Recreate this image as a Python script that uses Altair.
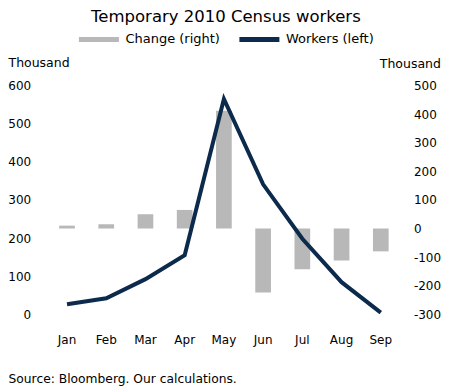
import altair as alt
import pandas as pd

months = ["Jan", "Feb", "Mar", "Apr", "May", "Jun", "Jul", "Aug", "Sep"]
workers = [26, 42, 92, 155, 565, 341, 198, 84, 4]
change = [10, 15, 50, 65, 412, -224, -143, -112, -80]
left_ticks = [0, 100, 200, 300, 400, 500, 600]
right_ticks = [-300, -200, -100, 0, 100, 200, 300, 400, 500]

bar_df = pd.DataFrame({"month": months, "value": change, "series": "Change (right)"})
line_df = pd.DataFrame({"month": months, "value": workers, "series": "Workers (left)"})

FONT = "DejaVu Sans"
BAR_C = "#b8b8b8"
LINE_C = "#0c2a4c"

x_enc = alt.X(
    "month:N",
    sort=months,
    scale=alt.Scale(paddingInner=0.6, paddingOuter=0.3),
    axis=alt.Axis(
        title="Source: Bloomberg. Our calculations.",
        labelAngle=0, domain=False, ticks=False, grid=False,
        labelPadding=20, labelFontSize=12, labelColor="#000",
        titleX=-39.4, titleY=64.5, titleAlign="left", titleBaseline="middle",
        titleFontWeight="normal", titleFontSize=12.3, titleColor="#000",
    ),
)

color_enc = alt.Color(
    "series:N",
    scale=alt.Scale(domain=["Change (right)", "Workers (left)"], range=[BAR_C, LINE_C]),
    legend=alt.Legend(
        title=None, orient="none", direction="horizontal",
        legendX=29, legendY=-69,
        symbolType="stroke", symbolSize=1600, symbolStrokeWidth=5,
        labelFontSize=13, labelColor="#000", labelOffset=4, columnPadding=8.5,
    ),
)

bars = alt.Chart(bar_df).mark_bar(color=BAR_C).encode(
    x=x_enc,
    y=alt.Y(
        "value:Q",
        scale=alt.Scale(domain=[-300, 500], nice=False, zero=False),
        axis=alt.Axis(
            orient="right", values=right_ticks, grid=False, domain=False, ticks=False,
            labelPadding=13, labelFontSize=12, labelColor="#000",
            labelExpr="datum.value < 0 ? '-' + abs(datum.value) : datum.label",
            title="Thousand", titleAngle=0, titleX=40, titleY=-22.5,
            titleAlign="right", titleBaseline="middle", titleFontWeight="normal",
            titleFontSize=12.5, titleColor="#000",
        ),
    ),
    color=color_enc,
)

line = alt.Chart(line_df).mark_line(strokeWidth=4, color=LINE_C).encode(
    x=x_enc,
    y=alt.Y(
        "value:Q",
        scale=alt.Scale(domain=[0, 600], nice=False),
        axis=alt.Axis(
            orient="left", values=left_ticks, grid=False, domain=False, ticks=False,
            labelPadding=16.7, labelFontSize=12, labelColor="#000",
            title="Thousand", titleAngle=0, titleX=-39.4, titleY=-23,
            titleAlign="left", titleBaseline="middle", titleFontWeight="normal",
            titleFontSize=12.5, titleColor="#000",
        ),
    ),
    color=color_enc,
)

chart = (
    alt.layer(bars, line)
    .resolve_scale(y="independent")
    .properties(
        width=353,
        height=228.5,
        padding={"left": 39.4, "top": 77.7, "right": 40.6, "bottom": 78},
        autosize=alt.AutoSizeParams(type="none"),
        title=alt.TitleParams(
            "Temporary 2010 Census workers", fontSize=16.5, fontWeight="normal",
            font=FONT, color="#000", anchor="middle", frame="group",
            baseline="alphabetic", offset=5, dy=27, dx=2,
        ),
    )
    .configure(font=FONT)
    .configure_view(stroke=None)
)

chart.save("out.html", embed_options={"renderer": "svg", "actions": False})
